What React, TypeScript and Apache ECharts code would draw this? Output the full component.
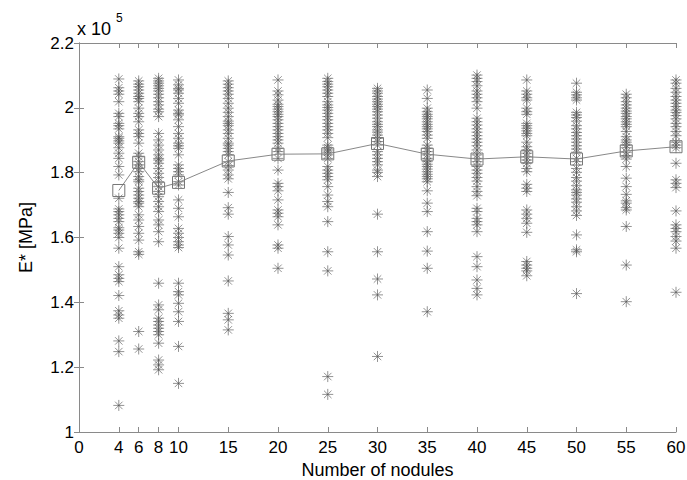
import React, { useEffect, useRef } from "react";
import * as echarts from "echarts";

// x positions (number of nodules)
const nodules = [4, 6, 8, 10, 15, 20, 25, 30, 35, 40, 45, 50, 55, 60];
const xTicks = [0, 4, 6, 8, 10, 15, 20, 25, 30, 35, 40, 45, 50, 55, 60];

// E* samples (x 10^5 MPa) per nodule count
const e4 = [2.089, 2.062, 2.052, 2.042, 2.019, 1.983, 1.973, 1.952, 1.945, 1.935, 1.911, 1.906, 1.898, 1.891, 1.877, 1.86, 1.844, 1.819, 1.793, 1.721, 1.688, 1.68, 1.67, 1.659, 1.649, 1.63, 1.623, 1.613, 1.6, 1.567, 1.51, 1.485, 1.474, 1.464, 1.421, 1.374, 1.361, 1.351, 1.281, 1.248, 1.082];
const e6 = [2.083, 2.073, 2.065, 2.055, 2.045, 2.035, 2.029, 2.019, 1.999, 1.983, 1.973, 1.957, 1.932, 1.921, 1.911, 1.891, 1.86, 1.849, 1.834, 1.824, 1.813, 1.803, 1.788, 1.778, 1.772, 1.752, 1.742, 1.731, 1.721, 1.711, 1.706, 1.695, 1.67, 1.654, 1.634, 1.613, 1.592, 1.556, 1.548, 1.31, 1.256];
const e8 = [2.091, 2.083, 2.076, 2.068, 2.06, 2.052, 2.042, 2.031, 2.019, 2.009, 1.996, 1.988, 1.973, 1.921, 1.901, 1.885, 1.87, 1.855, 1.844, 1.839, 1.829, 1.813, 1.798, 1.785, 1.772, 1.757, 1.742, 1.726, 1.711, 1.695, 1.68, 1.654, 1.639, 1.618, 1.587, 1.459, 1.392, 1.377, 1.351, 1.341, 1.33, 1.32, 1.31, 1.3, 1.274, 1.222, 1.207, 1.192];
const e10 = [2.086, 2.071, 2.06, 2.055, 2.045, 2.029, 2.014, 1.993, 1.983, 1.978, 1.963, 1.942, 1.921, 1.906, 1.891, 1.883, 1.875, 1.855, 1.824, 1.813, 1.803, 1.793, 1.772, 1.762, 1.716, 1.69, 1.664, 1.628, 1.613, 1.6, 1.587, 1.577, 1.569, 1.459, 1.433, 1.423, 1.397, 1.371, 1.341, 1.264, 1.15];
const e15 = [2.083, 2.073, 2.062, 2.052, 2.042, 2.029, 2.014, 1.999, 1.986, 1.973, 1.959, 1.952, 1.945, 1.932, 1.921, 1.906, 1.891, 1.885, 1.875, 1.865, 1.855, 1.834, 1.822, 1.808, 1.793, 1.781, 1.739, 1.692, 1.672, 1.603, 1.577, 1.546, 1.466, 1.366, 1.346, 1.315];
const e20 = [2.086, 2.052, 2.04, 2.024, 2.011, 2.004, 1.996, 1.988, 1.98, 1.973, 1.963, 1.952, 1.942, 1.932, 1.921, 1.911, 1.901, 1.891, 1.875, 1.865, 1.844, 1.808, 1.767, 1.757, 1.744, 1.716, 1.685, 1.675, 1.664, 1.639, 1.577, 1.567, 1.505];
const e25 = [2.091, 2.081, 2.073, 2.065, 2.055, 2.045, 2.035, 2.019, 2.009, 2.001, 1.993, 1.983, 1.973, 1.963, 1.952, 1.942, 1.932, 1.921, 1.908, 1.885, 1.877, 1.87, 1.863, 1.855, 1.844, 1.819, 1.808, 1.798, 1.788, 1.778, 1.757, 1.731, 1.711, 1.695, 1.649, 1.556, 1.497, 1.171, 1.116];
const e30 = [2.06, 2.052, 2.045, 2.035, 2.027, 2.019, 2.011, 2.004, 1.996, 1.988, 1.978, 1.968, 1.957, 1.949, 1.942, 1.932, 1.925, 1.916, 1.906, 1.896, 1.885, 1.865, 1.855, 1.844, 1.834, 1.824, 1.808, 1.801, 1.788, 1.672, 1.556, 1.472, 1.423, 1.233];
const e35 = [2.055, 2.029, 1.999, 1.988, 1.98, 1.973, 1.966, 1.957, 1.949, 1.942, 1.935, 1.927, 1.916, 1.906, 1.885, 1.875, 1.865, 1.855, 1.844, 1.834, 1.826, 1.819, 1.811, 1.803, 1.795, 1.788, 1.781, 1.772, 1.744, 1.706, 1.68, 1.618, 1.558, 1.505, 1.371];
const e40 = [2.101, 2.091, 2.081, 2.068, 2.052, 2.042, 2.031, 2.019, 1.999, 1.968, 1.957, 1.947, 1.935, 1.925, 1.914, 1.904, 1.894, 1.883, 1.87, 1.855, 1.844, 1.834, 1.819, 1.808, 1.798, 1.785, 1.774, 1.757, 1.742, 1.729, 1.69, 1.68, 1.659, 1.649, 1.639, 1.618, 1.541, 1.51, 1.469, 1.443, 1.423];
const e45 = [2.086, 2.052, 2.042, 2.031, 2.024, 1.999, 1.988, 1.98, 1.952, 1.945, 1.937, 1.929, 1.921, 1.914, 1.894, 1.88, 1.87, 1.86, 1.849, 1.839, 1.829, 1.813, 1.803, 1.764, 1.752, 1.742, 1.685, 1.672, 1.659, 1.644, 1.616, 1.526, 1.515, 1.505, 1.497, 1.482];
const e50 = [2.076, 2.048, 2.04, 2.031, 2.024, 1.986, 1.978, 1.97, 1.959, 1.945, 1.935, 1.924, 1.914, 1.904, 1.894, 1.883, 1.873, 1.863, 1.844, 1.834, 1.813, 1.801, 1.785, 1.774, 1.76, 1.747, 1.739, 1.731, 1.719, 1.709, 1.695, 1.682, 1.668, 1.608, 1.562, 1.556, 1.427];
const e55 = [2.042, 2.031, 2.019, 2.009, 1.999, 1.99, 1.983, 1.973, 1.966, 1.957, 1.949, 1.942, 1.927, 1.911, 1.901, 1.894, 1.885, 1.877, 1.863, 1.853, 1.842, 1.819, 1.783, 1.757, 1.733, 1.713, 1.706, 1.692, 1.685, 1.634, 1.515, 1.402];
const e60 = [2.086, 2.076, 2.06, 2.048, 2.035, 2.024, 2.014, 2.004, 1.993, 1.986, 1.976, 1.966, 1.952, 1.942, 1.927, 1.914, 1.894, 1.885, 1.877, 1.829, 1.778, 1.767, 1.754, 1.682, 1.639, 1.628, 1.618, 1.603, 1.589, 1.567, 1.431];

// Mean E* per nodule count (square markers)
const means = [1.745, 1.832, 1.752, 1.77, 1.836, 1.857, 1.858, 1.89, 1.857, 1.842, 1.849, 1.842, 1.867, 1.88];

const samples = [e4, e6, e8, e10, e15, e20, e25, e30, e35, e40, e45, e50, e55, e60];

const ASTERISK = "path://M0 5L10 5M5 0L5 10M1.6 1.6L8.4 8.4M8.4 1.6L1.6 8.4";
const FONT = "Liberation Sans, Arial, sans-serif";

export default function App() {
  const ref = useRef<HTMLDivElement>(null);
  useEffect(() => {
    if (!ref.current) return;
    const chart = echarts.init(ref.current, undefined, { renderer: "svg" });
    const scatterData: number[][] = [];
    samples.forEach((arr, i) => arr.forEach((v) => scatterData.push([nodules[i], v])));
    const lineData = nodules.map((n, i) => [n, means[i]]);
    const axisColor = "#8a8a8a";
    const labelFont = { color: "#000", fontSize: 17, fontFamily: FONT };
    chart.setOption({
      animation: false,
      backgroundColor: "#fff",
      grid: { left: 79, right: 11, top: 43, bottom: 48, containLabel: false, outerBoundsMode: "none" },
      xAxis: [
        {
          type: "value",
          position: "bottom",
          min: 0,
          max: 60,
          splitLine: { show: false },
          axisLine: { lineStyle: { color: axisColor, width: 1 } },
          axisTick: { inside: true, length: 5, customValues: xTicks, lineStyle: { color: axisColor } },
          axisLabel: { ...labelFont, margin: 7, customValues: xTicks },
          name: "Number of nodules",
          nameLocation: "middle",
          nameGap: 29,
          nameTextStyle: { ...labelFont, fontSize: 18 },
        },
        {
          type: "value",
          position: "top",
          min: 0,
          max: 60,
          splitLine: { show: false },
          axisLine: { show: true, lineStyle: { color: axisColor, width: 1 } },
          axisTick: { inside: true, length: 5, customValues: xTicks, lineStyle: { color: axisColor } },
          axisLabel: { show: false },
        },
      ],
      yAxis: [
        {
          type: "value",
          position: "left",
          min: 1,
          max: 2.2,
          interval: 0.2,
          splitLine: { show: false },
          axisLine: { show: true, lineStyle: { color: axisColor, width: 1 } },
          axisTick: { show: true, inside: true, length: 5, lineStyle: { color: axisColor } },
          axisLabel: { ...labelFont, margin: 5, formatter: (v: number) => String(Math.round(v * 10) / 10) },
          name: "E* [MPa]",
          nameLocation: "middle",
          nameGap: 44,
          nameTextStyle: { ...labelFont, fontSize: 18 },
        },
        {
          type: "value",
          position: "right",
          min: 1,
          max: 2.2,
          interval: 0.2,
          splitLine: { show: false },
          axisLine: { show: true, lineStyle: { color: axisColor, width: 1 } },
          axisTick: { show: true, inside: true, length: 5, lineStyle: { color: axisColor } },
          axisLabel: { show: false },
        },
      ],
      graphic: [
        { type: "text", left: 77, top: 20, style: { text: "x 10", fill: "#000", font: "18px " + FONT } },
        { type: "text", left: 116, top: 12, style: { text: "5", fill: "#000", font: "12px " + FONT } },
      ],
      series: [
        {
          type: "scatter",
          xAxisIndex: 0,
          yAxisIndex: 0,
          data: scatterData,
          symbol: ASTERISK,
          symbolSize: 11,
          itemStyle: { color: "rgba(0,0,0,0)", borderColor: "#555", borderWidth: 0.8, opacity: 0.8 },
          z: 2,
        },
        {
          type: "line",
          xAxisIndex: 0,
          yAxisIndex: 0,
          data: lineData,
          symbol: "rect",
          symbolSize: 12,
          lineStyle: { color: "#888", width: 1 },
          itemStyle: { color: "rgba(0,0,0,0)", borderColor: "#777", borderWidth: 1 },
          z: 3,
        },
      ],
    });
    return () => chart.dispose();
  }, []);
  return <div ref={ref} style={{ width: 687, height: 480, position: "fixed", left: 0, top: 0 }} />;
}
